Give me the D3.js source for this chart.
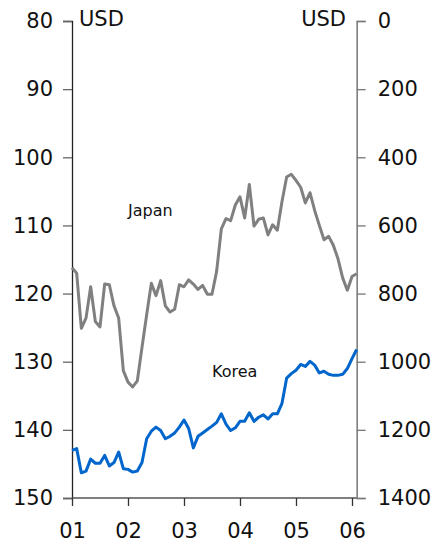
<!DOCTYPE html>
<html>
<head>
<meta charset="utf-8">
<script src="https://cdn.jsdelivr.net/npm/d3@7"></script>
<style>
  body { margin: 0; background: #fff; }
  svg text { font-family: "DejaVu Sans", Verdana, sans-serif; fill: #111; }
</style>
</head>
<body>
<div id="chart"></div>
<script>
// monthly, Jan 2001 .. Feb 2006
var startYear = 2001;

// JPY per USD (left axis, inverted)
var japan = [116.2, 117.0, 125.1, 123.6, 119.0, 124.1, 124.9, 118.6, 118.7, 121.8,
  123.6, 131.3, 133.0, 133.7, 132.8, 127.9, 123.1, 118.5, 120.3, 118.1,
  121.8, 122.7, 122.3, 118.7, 119.0, 118.0, 118.6, 119.4, 118.8, 120.1,
  120.1, 116.7, 110.5, 109.0, 109.3, 107.0, 105.8, 108.9, 104.0, 110.1,
  109.1, 108.9, 111.4, 109.9, 110.7, 106.5, 102.9, 102.5, 103.4, 104.4,
  106.7, 105.2, 107.8, 110.0, 112.1, 111.6, 112.9, 114.9, 117.7, 119.5,
  117.5, 117.1];

// KRW per USD (right axis, inverted)
var korea = [1260, 1255, 1326, 1321, 1286, 1298, 1298, 1275, 1306, 1296,
  1265, 1314, 1316, 1324, 1321, 1296, 1226, 1204, 1192, 1202,
  1226, 1219, 1209, 1192, 1171, 1196, 1253, 1219, 1209, 1199,
  1189, 1178, 1153, 1183, 1202, 1194, 1175, 1175, 1150, 1175,
  1163, 1156, 1168, 1153, 1153, 1122, 1048, 1035, 1025, 1008,
  1014, 999, 1010, 1033, 1028, 1037, 1040, 1040, 1037, 1020,
  991, 964];

var leftTicks = [80, 90, 100, 110, 120, 130, 140, 150];
var rightTicks = [0, 200, 400, 600, 800, 1000, 1200, 1400];
var yearTicks = [2001, 2002, 2003, 2004, 2005, 2006];
var yearLabels = ["01", "02", "03", "04", "05", "06"];

var W = 434, H = 545;
var svg = d3.select("#chart").append("svg")
  .attr("width", W).attr("height", H);

var x = d3.scaleLinear().domain([2001, 2006]).range([72, 352]);
var yL = d3.scaleLinear().domain([80, 150]).range([21, 498]);
var yR = d3.scaleLinear().domain([0, 1400]).range([21, 498]);
var xEnd = x(startYear + (japan.length - 1) / 12);

// left axis
var gL = svg.append("g").attr("transform", "translate(72,0)")
  .call(d3.axisLeft(yL).tickValues(leftTicks).tickSize(9).tickPadding(10).tickFormat(d3.format("d")));
gL.select(".domain").attr("stroke", "#222").attr("stroke-width", 1.3);
gL.selectAll(".tick line").attr("stroke", "#666").attr("stroke-width", 1.3);
gL.selectAll(".tick text").style("font-size", "21px").attr("fill", "#111");

// right axis
var gR = svg.append("g").attr("transform", "translate(" + xEnd + ",0)")
  .call(d3.axisRight(yR).tickValues(rightTicks).tickSize(9).tickPadding(12).tickFormat(d3.format("d")));
gR.select(".domain").attr("stroke", "#777").attr("stroke-width", 1.5);
gR.selectAll(".tick line").attr("stroke", "#777").attr("stroke-width", 1.3);
gR.selectAll(".tick text").style("font-size", "21px").attr("fill", "#111");

// bottom axis
var gB = svg.append("g").attr("transform", "translate(0,498)")
  .call(d3.axisBottom(x).tickValues(yearTicks).tickSize(8).tickPadding(17)
    .tickFormat(function(d, i) { return yearLabels[i]; }));
gB.select(".domain").attr("d", "M72,0H" + xEnd).attr("stroke", "#555").attr("stroke-width", 1.3);
gB.selectAll(".tick line").attr("stroke", "#333").attr("stroke-width", 1.3);
gB.selectAll(".tick text").style("font-size", "21px").attr("fill", "#111");

// lines
var lineJ = d3.line()
  .x(function(d, i) { return x(startYear + i / 12); })
  .y(function(d) { return yL(d); });
var lineK = d3.line()
  .x(function(d, i) { return x(startYear + i / 12); })
  .y(function(d) { return yR(d); });

svg.append("path").datum(japan)
  .attr("d", lineJ).attr("fill", "none")
  .attr("stroke", "#808080").attr("stroke-width", 3).attr("stroke-linejoin", "round");
svg.append("path").datum(korea)
  .attr("d", lineK).attr("fill", "none")
  .attr("stroke", "#0066cc").attr("stroke-width", 3).attr("stroke-linejoin", "round");

// unit labels
svg.append("text").attr("x", 79).attr("y", 26).style("font-size", "21px").text("USD");
svg.append("text").attr("x", 346).attr("y", 26).attr("text-anchor", "end").style("font-size", "21px").text("USD");

// series labels
svg.append("text").attr("x", 128).attr("y", 216).style("font-size", "16px").text("Japan");
svg.append("text").attr("x", 212).attr("y", 377).style("font-size", "16px").text("Korea");
</script>
</body>
</html>
